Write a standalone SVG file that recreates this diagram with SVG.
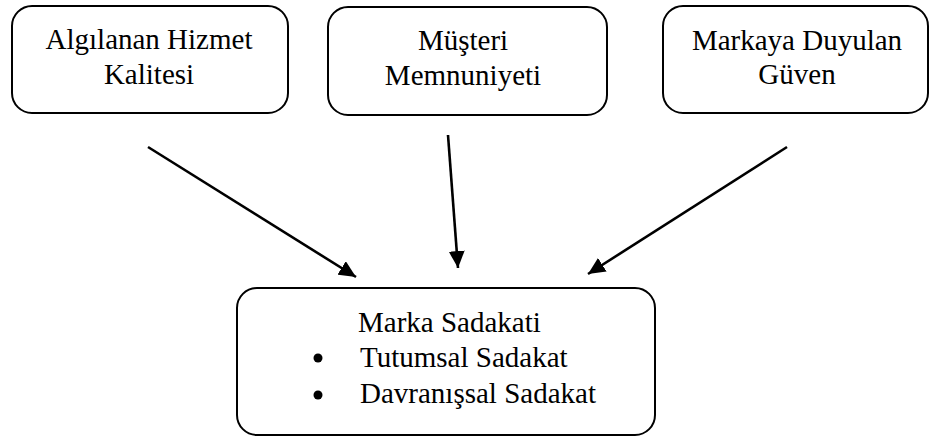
<svg xmlns="http://www.w3.org/2000/svg" width="931" height="438" viewBox="0 0 931 438">
<style>
.box{fill:#fff;stroke:#000;stroke-width:2}
.edge{stroke:#000;stroke-width:2.6;fill:none;marker-end:url(#ah)}
</style>
<defs>
<marker id="ah" markerUnits="userSpaceOnUse" markerWidth="20" markerHeight="16" refX="17" refY="8" orient="auto">
<path d="M0,0 L17,8 L0,16 Z" fill="#000"/>
</marker>
</defs>
<rect width="931" height="438" fill="#fff"/>
<g font-family="Liberation Serif" font-size="29" fill="#000">
<g id="n1">
<rect class="box" x="12" y="6" width="276" height="107" rx="20"/>
<text x="149" y="49" text-anchor="middle" fill="#000">Algılanan Hizmet</text>
<text x="149" y="84" text-anchor="middle" fill="#000">Kalitesi</text>
</g>
<g id="n2">
<rect class="box" x="328" y="7" width="279" height="108" rx="20"/>
<text x="463" y="50" text-anchor="middle" fill="#000">Müşteri</text>
<text x="463" y="85" text-anchor="middle" fill="#000">Memnuniyeti</text>
</g>
<g id="n3">
<rect class="box" x="663" y="6" width="265" height="107" rx="20"/>
<text x="797" y="50" text-anchor="middle" fill="#000">Markaya Duyulan</text>
<text x="797" y="84" text-anchor="middle" fill="#000">Güven</text>
</g>
<g id="n4">
<rect class="box" x="237" y="288" width="418" height="147" rx="20"/>
<text x="358" y="332" fill="#000">Marka Sadakati</text>
<circle cx="318" cy="358" r="4.5" fill="#000"/>
<text x="360" y="367" fill="#000">Tutumsal Sadakat</text>
<circle cx="318" cy="395" r="4.5" fill="#000"/>
<text x="360" y="403" fill="#000">Davranışsal Sadakat</text>
</g>
</g>
<g id="edges">
<line class="edge" x1="148" y1="147" x2="356" y2="277"/>
<line class="edge" x1="448" y1="135" x2="458" y2="268"/>
<line class="edge" x1="787" y1="147" x2="588" y2="274"/>
</g>
</svg>
